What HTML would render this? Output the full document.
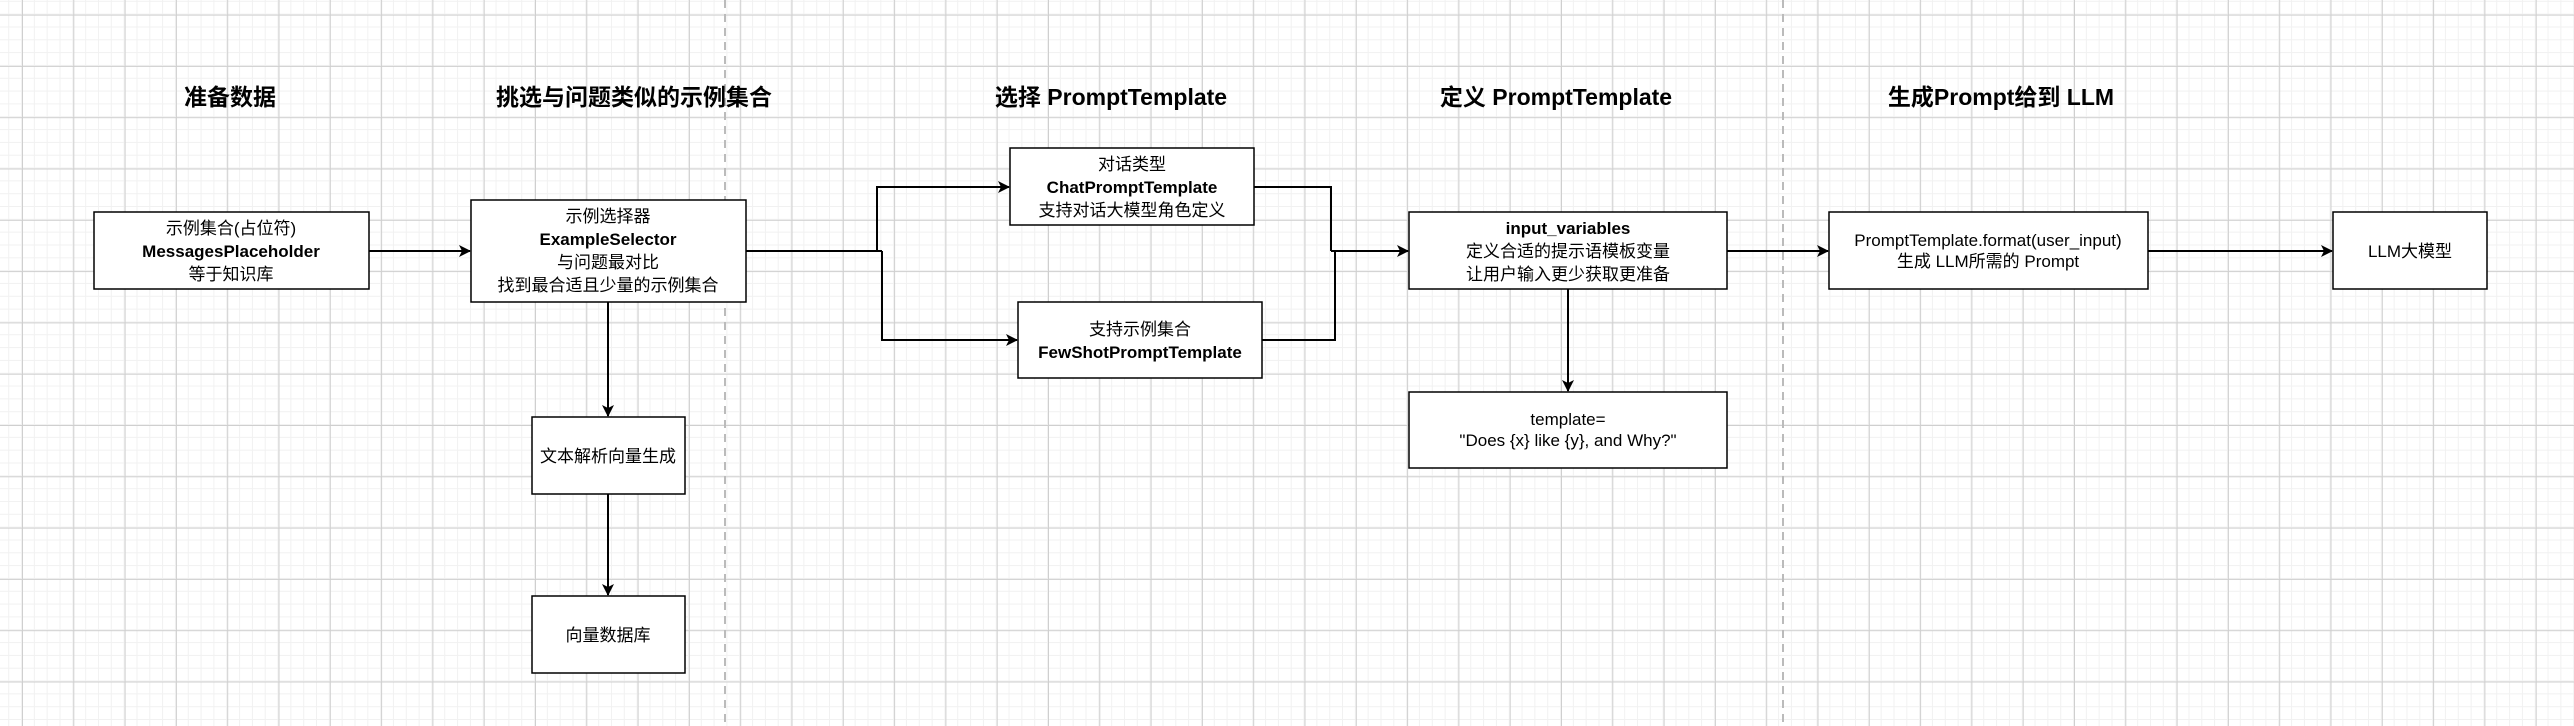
<!DOCTYPE html>
<html><head><meta charset="utf-8"><style>
html,body{margin:0;padding:0;background:#fff;}
svg{display:block;}
text{font-family:"Liberation Sans","Noto Sans CJK SC",sans-serif;fill:#000;}
.t{font-size:23px;font-weight:bold;text-anchor:middle;}
.b{font-size:17px;text-anchor:middle;}
.bb{font-size:17px;text-anchor:middle;font-weight:bold;}
</style></head><body>
<svg width="2574" height="726" xmlns="http://www.w3.org/2000/svg">
<defs>
<pattern id="minor" x="9.2" y="1.8" width="12.825" height="12.825" patternUnits="userSpaceOnUse">
<path d="M12.825 0V12.825M0 12.825H12.825" stroke="#f1f1f1" stroke-width="2" fill="none"/>
</pattern>
<pattern id="major" x="22" y="14.6" width="51.3" height="51.3" patternUnits="userSpaceOnUse">
<path d="M0.5 0V51.3M0 0.5H51.3" stroke="#cfcfcf" stroke-width="1" fill="none"/>
</pattern>
<marker id="ar" markerWidth="12" markerHeight="12" refX="11" refY="6" orient="auto" markerUnits="userSpaceOnUse">
<path d="M0,0 L12,6 L0,12 L3,6 Z" fill="#000"/>
</marker>
</defs>
<rect width="2574" height="726" fill="#fff"/>
<rect width="2574" height="726" fill="url(#minor)"/>
<rect width="2574" height="726" fill="url(#major)"/>
<line x1="725" y1="0" x2="725" y2="726" stroke="#bbb" stroke-width="2" stroke-dasharray="8,6"/>
<line x1="1783" y1="0" x2="1783" y2="726" stroke="#bbb" stroke-width="2" stroke-dasharray="8,6"/>

<text class="t" x="230" y="105">准备数据</text>
<text class="t" x="634" y="105">挑选与问题类似的示例集合</text>
<text class="t" x="1111" y="105">选择 PromptTemplate</text>
<text class="t" x="1556" y="105">定义 PromptTemplate</text>
<text class="t" x="2001" y="105">生成Prompt给到 LLM</text>

<g fill="#fff" stroke="#000" stroke-width="1.5">
<rect x="94" y="212" width="275" height="77"/>
<rect x="471" y="200" width="275" height="102"/>
<rect x="532" y="417" width="153" height="77"/>
<rect x="532" y="596" width="153" height="77"/>
<rect x="1010" y="148" width="244" height="77"/>
<rect x="1018" y="302" width="244" height="76"/>
<rect x="1409" y="212" width="318" height="77"/>
<rect x="1409" y="392" width="318" height="76"/>
<rect x="1829" y="212" width="319" height="77"/>
<rect x="2333" y="212" width="154" height="77"/>
</g>

<g fill="none" stroke="#000" stroke-width="2">
<line x1="369" y1="251" x2="470" y2="251" marker-end="url(#ar)"/>
<line x1="746" y1="251" x2="882" y2="251"/>
<polyline points="877,251 877,187 1009,187" marker-end="url(#ar)"/>
<polyline points="882,251 882,340 1017,340" marker-end="url(#ar)"/>
<polyline points="1254,187 1331,187 1331,251"/>
<polyline points="1262,340 1335,340 1335,251"/>
<line x1="1331" y1="251" x2="1408" y2="251" marker-end="url(#ar)"/>
<line x1="608" y1="302" x2="608" y2="416" marker-end="url(#ar)"/>
<line x1="608" y1="494" x2="608" y2="595" marker-end="url(#ar)"/>
<line x1="1568" y1="289" x2="1568" y2="391" marker-end="url(#ar)"/>
<line x1="1727" y1="251" x2="1828" y2="251" marker-end="url(#ar)"/>
<line x1="2148" y1="251" x2="2332" y2="251" marker-end="url(#ar)"/>
</g>

<text class="b" x="231" y="234">示例集合(占位符)</text>
<text class="bb" x="231" y="257">MessagesPlaceholder</text>
<text class="b" x="231" y="280">等于知识库</text>

<text class="b" x="608" y="222">示例选择器</text>
<text class="bb" x="608" y="245">ExampleSelector</text>
<text class="b" x="608" y="268">与问题最对比</text>
<text class="b" x="608" y="291">找到最合适且少量的示例集合</text>

<text class="b" x="608" y="462">文本解析向量生成</text>
<text class="b" x="608" y="641">向量数据库</text>

<text class="b" x="1132" y="170">对话类型</text>
<text class="bb" x="1132" y="193">ChatPromptTemplate</text>
<text class="b" x="1132" y="216">支持对话大模型角色定义</text>

<text class="b" x="1140" y="335">支持示例集合</text>
<text class="bb" x="1140" y="358">FewShotPromptTemplate</text>

<text class="bb" x="1568" y="234">input_variables</text>
<text class="b" x="1568" y="257">定义合适的提示语模板变量</text>
<text class="b" x="1568" y="280">让用户输入更少获取更准备</text>

<text class="b" x="1568" y="425">template=</text>
<text class="b" x="1568" y="446">"Does {x} like {y}, and Why?"</text>

<text class="b" x="1988" y="246">PromptTemplate.format(user_input)</text>
<text class="b" x="1988" y="267">生成 LLM所需的 Prompt</text>

<text class="b" x="2410" y="257">LLM大模型</text>
</svg>
</body></html>
